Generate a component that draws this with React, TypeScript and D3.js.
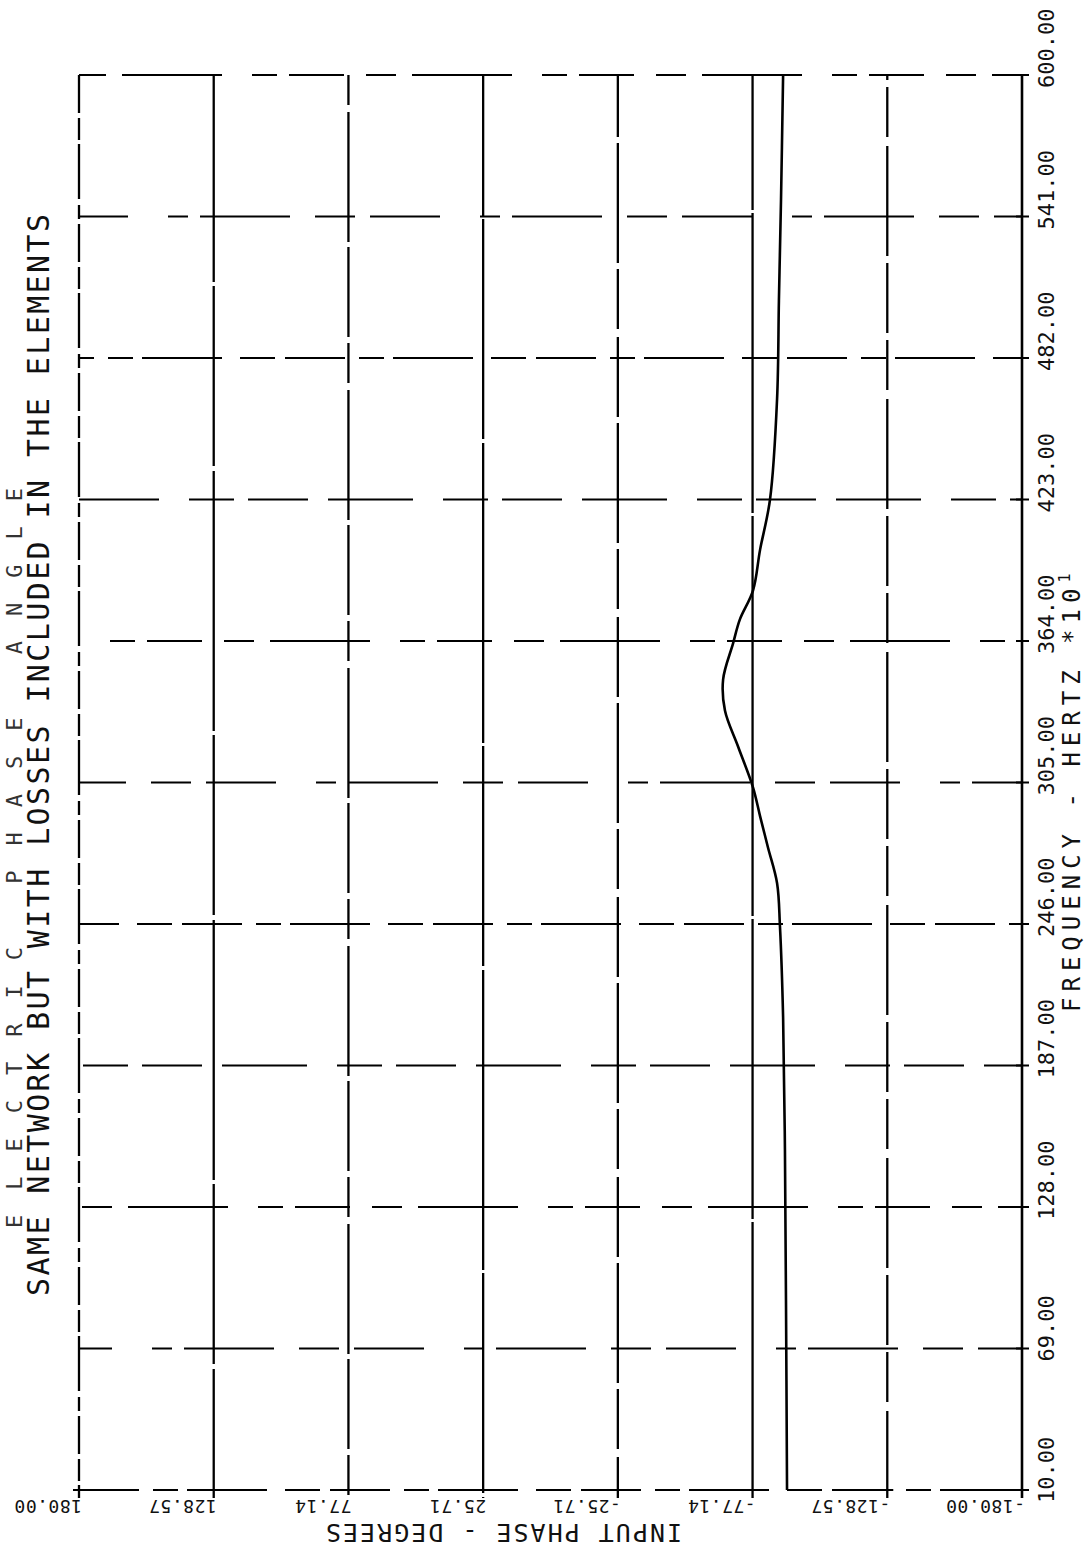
import React from 'react';
import * as d3 from 'd3';

// ---- data ----
const freqTicks = [10, 69, 128, 187, 246, 305, 364, 423, 482, 541, 600];
const freqTickLabels = ['10.00', '69.00', '128.00', '187.00', '246.00', '305.00', '364.00', '423.00', '482.00', '541.00', '600.00'];
const phaseTicks = [180, 128.57, 77.14, 25.71, -25.71, -77.14, -128.57, -180];
const phaseTickLabels = ['180.00', '128.57', '77.14', '25.71', '-25.71', '-77.14', '-128.57', '-180.00'];

// input phase (degrees) vs frequency (Hz *10)
const curveFreq = [10, 89, 152, 207, 245, 263, 278, 291, 303, 320, 335, 348, 363, 373, 385, 402, 423, 465, 506, 548, 600];
const curvePhase = [-90.3, -89.9, -89.5, -88.8, -87.6, -86.5, -83.0, -80.0, -77.3, -71.6, -66.6, -65.9, -69.7, -72.3, -77.3, -80.0, -83.8, -86.5, -87.2, -88.0, -88.8];

const titleText = 'ELECTRIC PHASE ANGLE';
const subtitleText = 'SAME NETWORK BUT WITH LOSSES INCLUDED IN THE ELEMENTS';
const xTitle = 'INPUT PHASE - DEGREES';
const yTitle = 'FREQUENCY - HERTZ  *10';

const W = 1085;
const H = 1559;
const FONT = '"DejaVu Sans Mono", "Liberation Mono", monospace';

export default function App() {
  const x = d3.scaleLinear().domain([180, -180]).range([79, 1022]);
  const y = d3.scaleLinear().domain([10, 600]).range([1490, 75]);

  const pts: [number, number][] = curveFreq.map((f, i) => [x(curvePhase[i]), y(f)]);
  const line = d3.line<[number, number]>().x(d => d[0]).y(d => d[1]).curve(d3.curveCatmullRom.alpha(0.5));

  const vDash = ['38 5 22 4 55 6 14 5', '260 4 180 5', '90 6 40 7 130 5', '300 3 220 4', '120 6 60 8 80 6', '400 3 300 3', '70 7 50 9 110 7', '2000 0'];
  const hDash = ['60 14 25 9 80 18 35 10', '70 40 20 12 90 25 40 15', '55 22 30 16 100 30 25 12', '85 30 45 14 60 20'];

  const yTop = y(600);
  const yBot = y(10);
  const xL = x(180);
  const xR = x(-180);

  return (
    <svg width={W} height={H} viewBox={`0 0 ${W} ${H}`} style={{ position: 'absolute', left: 0, top: 0, background: '#fff' }}>
      <rect x={0} y={0} width={W} height={H} fill="#fff" />
      {/* horizontal grid lines */}
      {freqTicks.map((f, i) => (
        <g key={'h' + i}>
          <line x1={xL} x2={xR} y1={y(f)} y2={y(f)} stroke="#000" strokeWidth={2}
            strokeDasharray={hDash[i % hDash.length]} strokeDashoffset={i * 37} />
          <line x1={xR - 6} x2={xR + 7} y1={y(f)} y2={y(f)} stroke="#000" strokeWidth={2} />
        </g>
      ))}
      {/* vertical grid lines */}
      {phaseTicks.map((p, i) => (
        <g key={'v' + i}>
          <line x1={x(p)} x2={x(p)} y1={yTop} y2={yBot + 8} stroke="#000" strokeWidth={i === 7 ? 2.6 : 2.3}
            strokeDasharray={vDash[i]} strokeDashoffset={i * 53} />
          <line x1={x(p) - 6} x2={x(p) + 6} y1={yBot} y2={yBot} stroke="#000" strokeWidth={2} />
        </g>
      ))}
      {/* curve */}
      <path d={line(pts) || ''} fill="none" stroke="#000" strokeWidth={2.6} />

      {/* frequency tick labels (right, rotated) */}
      {freqTicks.map((f, i) => (
        <text key={'fl' + i} transform={`translate(1054,${y(f) + 13}) rotate(-90)`} fontFamily={FONT} fontSize={22}
          fill="#111" textAnchor="start">{freqTickLabels[i]}</text>
      ))}
      {/* frequency axis title */}
      <text transform={`translate(1080,1012) rotate(-90)`} fontFamily={FONT} fontSize={24} letterSpacing={6} fill="#111">
        {yTitle}
        <tspan fontSize={15} dy={-10}>1</tspan>
      </text>

      {/* phase tick labels (bottom, upside down) */}
      {phaseTicks.map((p, i) => (
        <text key={'pl' + i} transform={`translate(${x(p) + 3},1500) rotate(180)`} fontFamily={FONT} fontSize={18}
          letterSpacing={0.5} fill="#111" textAnchor="start">{phaseTickLabels[i]}</text>
      ))}
      {/* phase axis title */}
      <text transform={`translate(682,1524) rotate(180)`} fontFamily={FONT} fontSize={25} letterSpacing={2} fill="#111" textAnchor="start">
        {xTitle}
      </text>

      {/* titles (left, rotated) */}
      <text transform={`translate(22,1228) rotate(-90)`} fontFamily={FONT} fontSize={22} letterSpacing={25} fill="#333">
        {titleText}
      </text>
      <text transform={`translate(49,1296) rotate(-90)`} fontFamily={FONT} fontSize={30} letterSpacing={2.4} fill="#111">
        {subtitleText}
      </text>
    </svg>
  );
}
